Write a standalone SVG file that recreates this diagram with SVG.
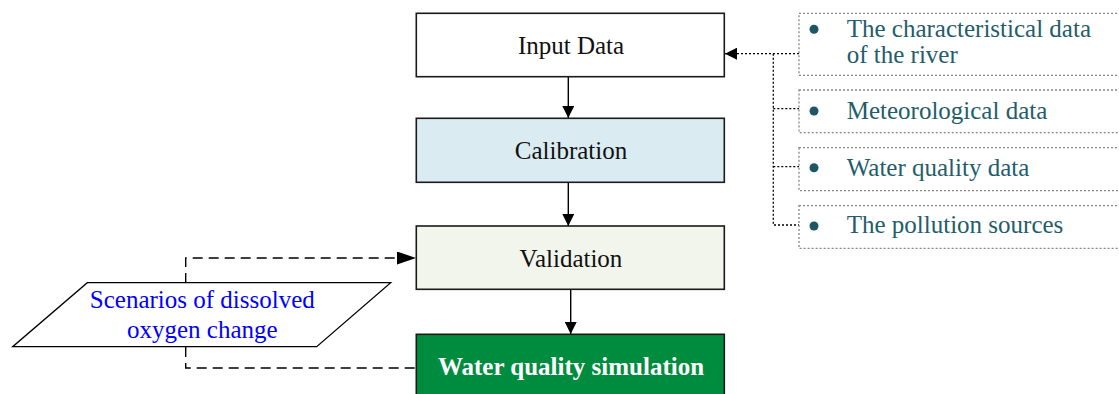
<svg xmlns="http://www.w3.org/2000/svg" width="1119" height="394" viewBox="0 0 1119 394">
<style>
.box{stroke:#1a1a1a;stroke-width:1.6}
.lbl{font-family:"Liberation Serif","Times New Roman",serif;font-size:25px;text-anchor:middle;fill:#111}
.bx{fill:none;stroke:#888;stroke-width:1.3;stroke-dasharray:2,2}
.bul{fill:#1f5664}
.it{font-family:"Liberation Serif","Times New Roman",serif;font-size:25px;fill:#235d6b}
.sol{fill:none;stroke:#000;stroke-width:1.4}
.dot{fill:none;stroke:#000;stroke-width:1.3;stroke-dasharray:2,2}
.dash{fill:none;stroke:#000;stroke-width:1.4;stroke-dasharray:10,6}
</style>
<defs>
<marker id="ah" markerUnits="userSpaceOnUse" markerWidth="12" markerHeight="12" refX="12" refY="6" orient="auto"><path d="M0,0 L12,6 L0,12 z" fill="#000"/></marker>
<marker id="ahL" markerUnits="userSpaceOnUse" markerWidth="19" markerHeight="13" refX="19" refY="6.5" orient="auto"><path d="M0,0 L19,6.5 L0,13 z" fill="#000"/></marker>
</defs>
<g id="connectors">
<line class="sol" x1="568.3" y1="77" x2="568.3" y2="118" marker-end="url(#ah)"/>
<line class="sol" x1="568.3" y1="183" x2="568.3" y2="226" marker-end="url(#ah)"/>
<line class="sol" x1="570.7" y1="290" x2="570.7" y2="334" marker-end="url(#ah)"/>
<path class="dot" d="M799,53.7 H725" marker-end="url(#ah)"/>
<path class="dot" d="M773.3,53.7 V225 H799 M773.3,108.7 H799 M773.3,166.7 H799"/>
<path class="dash" d="M185.7,283 V258 H416" marker-end="url(#ahL)"/>
<path class="dash" d="M185.7,347 V368 H416"/>
</g>
<g id="input-data">
<rect class="box" x="416.3" y="13.3" width="308" height="63.4" fill="#fff"/>
<text class="lbl" x="571" y="54">Input Data</text>
</g>
<g id="calibration">
<rect class="box" x="416.3" y="118.3" width="308" height="64" fill="#daecf2"/>
<text class="lbl" x="571" y="159.3">Calibration</text>
</g>
<g id="validation">
<rect class="box" x="416.3" y="226" width="308" height="63.3" fill="#f2f5ec"/>
<text class="lbl" x="571" y="266.7">Validation</text>
</g>
<g id="simulation">
<rect class="box" x="416.3" y="334.3" width="308" height="70" fill="#008c3e"/>
<text class="lbl" x="571" y="375" style="font-weight:bold;fill:#fff">Water quality simulation</text>
</g>
<g id="scenarios">
<polygon points="87.3,282.7 390.7,282.7 316.7,346.7 12.7,346.7" fill="#fff" stroke="#000" stroke-width="1.3"/>
<text class="lbl" x="202.3" y="308.3" style="fill:#0000ff">Scenarios of dissolved</text>
<text class="lbl" x="202.3" y="338.3" style="fill:#0000ff">oxygen change</text>
</g>
<g id="river-data">
<rect class="bx" x="799" y="13.3" width="330" height="62"/>
<circle class="bul" cx="814" cy="29.3" r="4.5"/>
<text class="it" x="846.7" y="36.7">The characteristical data</text>
<text class="it" x="846.7" y="63.3">of the river</text>
</g>
<g id="meteorological">
<rect class="bx" x="799" y="90" width="330" height="42.7"/>
<circle class="bul" cx="814" cy="111" r="4.5"/>
<text class="it" x="846.7" y="119">Meteorological data</text>
</g>
<g id="water-quality-data">
<rect class="bx" x="799" y="147.7" width="330" height="43"/>
<circle class="bul" cx="814" cy="167.7" r="4.5"/>
<text class="it" x="846.7" y="175.7">Water quality data</text>
</g>
<g id="pollution">
<rect class="bx" x="799" y="205.7" width="330" height="42.6"/>
<circle class="bul" cx="814" cy="226" r="4.5"/>
<text class="it" x="846.7" y="233.3">The pollution sources</text>
</g>
</svg>
